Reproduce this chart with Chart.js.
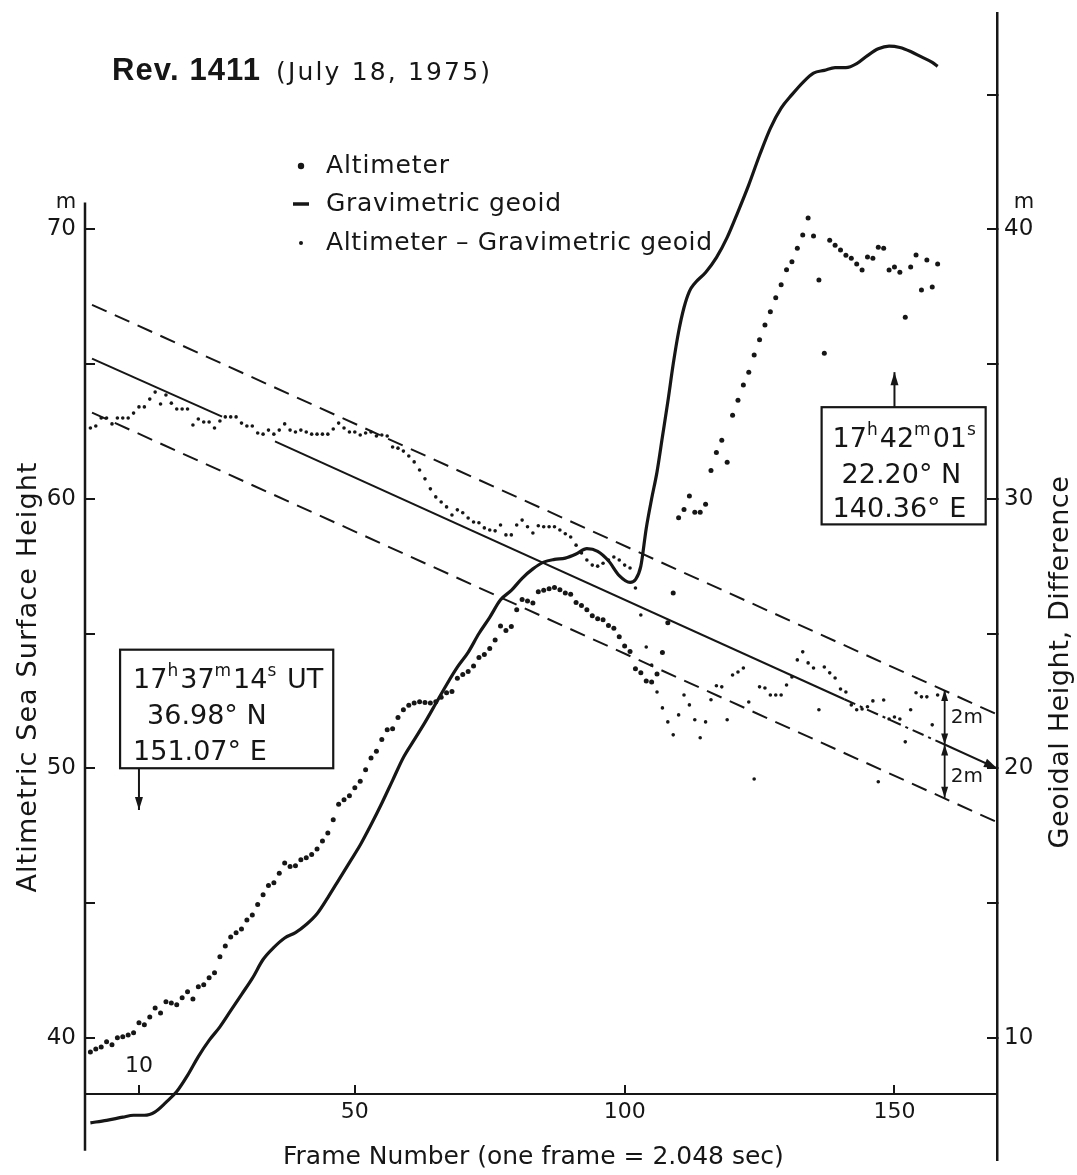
<!DOCTYPE html>
<html>
<head>
<meta charset="utf-8">
<script src="https://cdn.jsdelivr.net/npm/chart.js@4.4.1/dist/chart.umd.min.js"></script>
<style>
  html, body { margin: 0; padding: 0; background: #fff; }
  canvas { display: block; }
</style>
</head>
<body>
<canvas id="myChart" width="1077" height="1175"></canvas>
<script>
const INK = '#161616';
const FONT = '"DejaVu Sans", sans-serif';

// axis ticks
const frameTicks = [10, 50, 100, 150];
const heightTicks = [40, 45, 50, 55, 60, 65, 70];
const geoidTicks = [10, 15, 20, 25, 30, 35, 40, 45];

// altimeter sea surface height (m, left axis), one reading per frame from frame 1
const altimeter = [
  39.47, 39.58, 39.65, 39.85, 39.74, 40.0, 40.03, 40.1, 40.18, 40.55,
  40.48, 40.77, 41.1, 40.92, 41.33, 41.29, 41.22, 41.48, 41.7, 41.44,
  41.89, 41.96, 42.22, 42.41, 43.0, 43.4, 43.74, 43.89, 44.03, 44.37,
  44.55, 44.94, 45.3, 45.65, 45.75, 46.1, 46.48, 46.35, 46.38, 46.6,
  46.68, 46.8, 47.0, 47.3, 47.6, 48.09, 48.66, 48.83, 48.98, 49.28,
  49.52, 49.94, 50.38, 50.63, 51.07, 51.43, 51.47, 51.88, 52.17, 52.34,
  52.42, 52.47, 52.44, 52.42, 52.47, 52.63, 52.8, 52.85, 53.34, 53.48,
  53.59, 53.79, 54.11, 54.22, 54.44, 54.76, 55.28, 55.11, 55.26, 55.88,
  56.26, 56.21, 56.13, 56.55, 56.61, 56.66, 56.71, 56.62, 56.5, 56.46,
  56.15, 56.04, 55.88, 55.66, 55.55, 55.51, 55.3, 55.2, 54.88, 54.54,
  54.33, 53.69, 53.54, 53.24, 53.2, 53.5, 54.3, 55.4, 56.5, 59.3,
  59.6, 60.1, 59.5, 59.5, 59.8, 61.05, 61.72, 62.17, 61.36, 63.1,
  63.66, 64.22, 64.7, 65.34, 65.9, 66.45, 66.94, 67.46, 67.94, 68.5,
  68.8, 69.3, 69.79, 70.42, 69.75, 68.12, 65.4, 69.6, 69.41, 69.23,
  69.04, 68.93, 68.71, 68.49, 68.97, 68.93, 69.34, 69.3, 68.49, 68.6,
  68.41, 66.74, 68.6, 69.05, 67.75, 68.86, 67.86, 68.71
];

// altimeter - gravimetric geoid (m, right axis), one per frame from frame 1
const difference = [
  32.63, 32.70, 33.0, 33.0, 32.78, 33.0, 33.0, 33.0, 33.18, 33.41,
  33.41, 33.7, 33.96, 33.52, 33.85, 33.55, 33.33, 33.33, 33.33, 32.74,
  32.96, 32.85, 32.85, 32.63, 32.89, 33.04, 33.04, 33.04, 32.81, 32.7,
  32.7, 32.44, 32.4, 32.55, 32.4, 32.55, 32.78, 32.55, 32.48, 32.55,
  32.48, 32.4, 32.4, 32.4, 32.4, 32.59, 32.81, 32.63, 32.48, 32.48,
  32.37, 32.44, 32.48, 32.33, 32.37, 32.33, 31.92, 31.88, 31.77, 31.59,
  31.37, 31.07, 30.74, 30.37, 30.07, 29.88, 29.7, 29.4, 29.59, 29.48,
  29.29, 29.14, 29.11, 28.92, 28.84, 28.81, 29.03, 28.66, 28.66, 29.03,
  29.21, 28.96, 28.73, 29.0, 28.96, 28.96, 28.96, 28.84, 28.7, 28.58,
  28.28, 27.99, 27.73, 27.54, 27.5, 27.61, 27.73, 27.84, 27.73, 27.54,
  27.43, 26.69, 25.69, 24.5, 23.83, 22.83, 22.24, 21.72, 21.24, 21.98,
  22.72, 22.35, 21.8, 21.13, 21.72, 22.54, 23.06, 23.02, 21.8, 23.46,
  23.57, 23.72, 22.46, 19.6, 23.02, 22.98, 22.72, 22.72, 22.72, 23.09,
  23.39, 24.02, 24.32, 23.91, 23.72, 22.17, 23.76, 23.54, 23.35, 22.94,
  22.83, 22.35, 22.17, 22.2, 22.28, 22.5, 19.5, 22.53, 21.83, 21.9,
  21.83, 20.98, 22.17, 22.8, 22.65, 22.65, 21.61, 22.72
];

// gravimetric geoid (m, right axis)
const geoidFrames = [
  1, 4, 7, 9, 11, 13, 15, 17, 19, 21, 23, 25, 27, 29, 31, 33, 35, 37, 39, 41,
  43, 45, 47, 49, 51, 53, 55, 57, 59, 61, 63, 65, 67, 69, 71, 73, 75, 77, 79, 81,
  83, 85, 87, 89, 91, 93, 95, 97, 99, 101, 102, 103, 104, 105, 106, 107, 108, 109, 110, 111,
  112, 113, 115, 117, 119, 121, 123, 125, 127, 129, 131, 133, 135, 137, 139, 141, 143, 145, 147, 149,
  151, 153, 155, 157, 158
];
const geoidHeights = [
  6.84, 6.93, 7.05, 7.12, 7.12, 7.25, 7.6, 8.0, 8.6, 9.3, 9.9, 10.4, 11.0, 11.6, 12.2, 12.9, 13.35, 13.7, 13.9, 14.2,
  14.6, 15.2, 15.85, 16.5, 17.15, 17.9, 18.7, 19.55, 20.4, 21.05, 21.7, 22.4, 23.1, 23.75, 24.3, 25.0, 25.6, 26.25, 26.6, 27.05,
  27.4, 27.65, 27.75, 27.8, 27.95, 28.15, 28.05, 27.7, 27.15, 26.9, 27.0, 27.5, 28.9, 30.0, 31.0, 32.3, 33.6, 35.0, 36.2, 37.1,
  37.7, 38.0, 38.4, 38.95, 39.7, 40.65, 41.65, 42.75, 43.75, 44.5, 45.0, 45.45, 45.8, 45.9, 46.0, 46.0, 46.15, 46.45, 46.7, 46.8,
  46.75, 46.6, 46.4, 46.2, 46.05
];

// straight fit through the difference, and the +/- 2 m band (right axis)
const trendFrames = [1.3, 25.4, 30, 35.2, 140.7, 159.3, 169];
const trendHeights = [35.2, 33.05, null, 32.13, 22.56, 20.88, 20.0];
const bandFrames = [1.3, 169];
const upperBand = [37.2, 22.0];
const lowerBand = [33.2, 18.0];

const frames = altimeter.map((v, i) => i + 1);
const pts = (xs, ys) => xs.map((x, i) => ({ x: x, y: ys[i] }));

function arrowHead(ctx, x, y, angle, len, half) {
    len = len || 11; half = half || 4;
    const c = Math.cos(angle), s = Math.sin(angle);
    ctx.beginPath();
    ctx.moveTo(x, y);
    ctx.lineTo(x - len * c + half * s, y - len * s - half * c);
    ctx.lineTo(x - len * c - half * s, y - len * s + half * c);
    ctx.closePath();
    ctx.fill();
}

function line(ctx, x0, y0, x1, y1) {
    ctx.beginPath();
    ctx.moveTo(x0, y0);
    ctx.lineTo(x1, y1);
    ctx.stroke();
}

// draw a string stretched to a given width with letter spacing
function spaced(ctx, str, x, y, width) {
    ctx.letterSpacing = '0px';
    const natural = ctx.measureText(str).width;
    const extra = width ? Math.max(0, (width - natural) / (str.length - 1)) : 0;
    ctx.letterSpacing = extra + 'px';
    ctx.fillText(str, x, y);
    ctx.letterSpacing = '0px';
}

// text with raised superscript parts: [['17'], ['h', true], ...]
function rich(ctx, parts, x, y, size) {
    let cx = x;
    ctx.textAlign = 'left';
    ctx.textBaseline = 'alphabetic';
    parts.forEach(p => {
        const sup = p[1];
        ctx.font = (sup ? Math.round(size * 0.62) : size) + 'px ' + FONT;
        ctx.fillText(p[0], cx, sup ? y - size * 0.45 : y);
        cx += ctx.measureText(p[0]).width + (sup ? 2 : 0);
    });
}

const notes = [
    { left: 6.5, right: 46, top: 54.4, bottom: 50.0, arrowFrame: 10, arrowTip: 48.45,
      lines: [
        { dx: 13, dy: 38, parts: [['17'], ['h', true], ['37'], ['m', true], ['14'], ['s', true], [' UT']] },
        { dx: 27, dy: 74, parts: [['36.98° N']] },
        { dx: 13, dy: 110, parts: [['151.07° E']] }
      ] },
    { left: 136.5, right: 166.9, top: 63.4, bottom: 59.05, arrowFrame: 150, arrowTip: 64.7,
      lines: [
        { dx: 11, dy: 40, parts: [['17'], ['h', true], ['42'], ['m', true], ['01'], ['s', true]] },
        { dx: 20, dy: 76, parts: [['22.20° N']] },
        { dx: 11, dy: 110, parts: [['140.36° E']] }
      ] }
];

const decorations = {
    id: 'decorations',
    afterDraw(chart) {
        const { ctx, chartArea } = chart;
        const sx = chart.scales.x, sy = chart.scales.y, sr = chart.scales.y1;
        ctx.save();
        ctx.fillStyle = INK;
        ctx.strokeStyle = INK;
        ctx.lineCap = 'butt';

        // left axis only runs over part of the height
        ctx.lineWidth = 2.5;
        line(ctx, chartArea.left, sy.getPixelForValue(71), chartArea.left, sy.getPixelForValue(35.8));

        // units
        ctx.font = '21px ' + FONT;
        ctx.textAlign = 'center';
        ctx.textBaseline = 'middle';
        ctx.fillText('m', 66, 203);
        ctx.fillText('m', 1024, 203);

        // frame 10 label sits above the axis
        ctx.font = '22px ' + FONT;
        ctx.fillText('10', sx.getPixelForValue(10), sy.getPixelForValue(37.92) - 27);

        // title
        ctx.textAlign = 'left';
        ctx.textBaseline = 'alphabetic';
        ctx.font = 'bold 31px "Liberation Sans", sans-serif';
        spaced(ctx, 'Rev. 1411', 112, 80, 148);
        ctx.font = '25px ' + FONT;
        spaced(ctx, '(July 18, 1975)', 276, 80, 214);

        // legend
        ctx.font = '25px ' + FONT;
        ctx.textBaseline = 'middle';
        const lx = 301, tx = 326;
        ctx.beginPath(); ctx.arc(lx, 166, 3.2, 0, Math.PI * 2); ctx.fill();
        spaced(ctx, 'Altimeter', tx, 166, 123);
        ctx.lineWidth = 3.5;
        line(ctx, lx - 8, 204, lx + 8, 204);
        spaced(ctx, 'Gravimetric geoid', tx, 204, 235);
        ctx.beginPath(); ctx.arc(lx, 243, 2, 0, Math.PI * 2); ctx.fill();
        spaced(ctx, 'Altimeter – Gravimetric geoid', tx, 243, 386);

        // axis titles
        ctx.textBaseline = 'alphabetic';
        ctx.textAlign = 'center';
        ctx.font = '27px ' + FONT;
        ctx.save();
        ctx.translate(36, 677);
        ctx.rotate(-Math.PI / 2);
        spaced(ctx, 'Altimetric Sea Surface Height', 0, 0, 430);
        ctx.restore();
        ctx.save();
        ctx.translate(1068, 662);
        ctx.rotate(-Math.PI / 2);
        spaced(ctx, 'Geoidal Height, Difference', 0, 0, 372);
        ctx.restore();
        ctx.textAlign = 'left';
        ctx.font = '25px ' + FONT;
        spaced(ctx, 'Frame Number (one frame = 2.048 sec)', 283, 1164);

        // position / time boxes
        notes.forEach(n => {
            const l = sx.getPixelForValue(n.left), r = sx.getPixelForValue(n.right);
            const t = sy.getPixelForValue(n.top), b = sy.getPixelForValue(n.bottom);
            ctx.lineWidth = 2.2;
            ctx.strokeRect(l, t, r - l, b - t);
            n.lines.forEach(ln => rich(ctx, ln.parts, l + ln.dx, t + ln.dy, 27));
            const ax = sx.getPixelForValue(n.arrowFrame);
            const from = n.arrowTip < n.bottom ? b : t;
            const tip = sy.getPixelForValue(n.arrowTip);
            ctx.lineWidth = 2;
            line(ctx, ax, from, ax, tip);
            arrowHead(ctx, ax, tip, tip > from ? Math.PI / 2 : -Math.PI / 2, 13, 4);
        });

        // arrow at the end of the fitted line
        const ex = sx.getPixelForValue(169), ey = sr.getPixelForValue(20.0);
        const px = sx.getPixelForValue(159.3), py = sr.getPixelForValue(20.88);
        arrowHead(ctx, ex, ey, Math.atan2(ey - py, ex - px), 13, 4.5);

        // 2 m spread markers
        const mx = sx.getPixelForValue(159.3);
        const yu = sr.getPixelForValue(22.9), ym = sr.getPixelForValue(20.88), yl = sr.getPixelForValue(18.9);
        ctx.lineWidth = 1.8;
        line(ctx, mx, yu, mx, yl);
        arrowHead(ctx, mx, yu, -Math.PI / 2, 11, 3.5);
        arrowHead(ctx, mx, ym, Math.PI / 2, 11, 3.5);
        arrowHead(ctx, mx, ym, -Math.PI / 2, 11, 3.5);
        arrowHead(ctx, mx, yl, Math.PI / 2, 11, 3.5);
        ctx.font = '20px ' + FONT;
        ctx.textBaseline = 'middle';
        ctx.textAlign = 'left';
        ctx.fillText('2m', mx + 6, (yu + ym) / 2);
        ctx.fillText('2m', mx + 6, (ym + yl) / 2 + 6);
        ctx.restore();
    }
};

// scale boxes keep exact sizes, without room reserved for half tick labels
const fixWidth = w => s => { s.width = w; s.paddingTop = 0; s.paddingBottom = 0; };
const fixHeight = h => s => { s.height = h; s.paddingLeft = 0; s.paddingRight = 0; };

const chartCtx = document.getElementById('myChart').getContext('2d');

new Chart(chartCtx, {
    type: 'scatter',
    data: {
        datasets: [
            {
                label: 'Altimeter',
                data: pts(frames, altimeter),
                yAxisID: 'y',
                pointRadius: 2.5,
                pointBorderWidth: 0,
                pointBackgroundColor: INK,
                showLine: false
            },
            {
                label: 'Gravimetric geoid',
                data: pts(geoidFrames, geoidHeights),
                yAxisID: 'y1',
                showLine: true,
                borderColor: INK,
                borderWidth: 3.2,
                pointRadius: 0,
                cubicInterpolationMode: 'monotone'
            },
            {
                label: 'Altimeter - Gravimetric geoid',
                data: pts(frames, difference),
                yAxisID: 'y1',
                pointRadius: 1.8,
                pointBorderWidth: 0,
                pointBackgroundColor: INK,
                showLine: false
            },
            {
                label: 'fit',
                data: pts(trendFrames, trendHeights),
                yAxisID: 'y1',
                showLine: true,
                borderColor: INK,
                borderWidth: 2,
                pointRadius: 0,
                segment: {
                    borderDash: c => (c.p0.parsed.x > 140 && c.p0.parsed.x < 150) ? [12, 5, 3, 5] : undefined
                }
            },
            {
                label: '+2 m',
                data: pts(bandFrames, upperBand),
                yAxisID: 'y1',
                showLine: true,
                borderColor: INK,
                borderWidth: 2,
                borderDash: [16, 9],
                pointRadius: 0
            },
            {
                label: '-2 m',
                data: pts(bandFrames, lowerBand),
                yAxisID: 'y1',
                showLine: true,
                borderColor: INK,
                borderWidth: 2,
                borderDash: [16, 9],
                pointRadius: 0
            }
        ]
    },
    options: {
        responsive: false,
        animation: false,
        // the frame axis sits inside the plot, so the bottom gap is plain padding
        layout: { padding: { top: 13, left: 0, right: 0, bottom: 15 } },
        plugins: {
            legend: { display: false },
            tooltip: { enabled: false }
        },
        scales: {
            x: {
                type: 'linear',
                min: 0,
                max: 169,
                position: { y: 37.92 },
                afterFit: fixHeight(15),
                afterBuildTicks: s => { s.ticks = frameTicks.map(v => ({ value: v })); },
                grid: { drawOnChartArea: false, drawTicks: true, tickLength: -10, color: INK, lineWidth: 2 },
                border: { display: true, color: INK, width: 2 },
                ticks: {
                    autoSkip: false,
                    maxRotation: 0,
                    padding: 15,
                    color: INK,
                    font: { family: FONT, size: 22 },
                    callback: v => v === 10 ? '' : v
                }
            },
            y: {
                position: 'left',
                min: 35.46,
                max: 78.03,
                afterFit: fixWidth(85),
                afterBuildTicks: s => { s.ticks = heightTicks.map(v => ({ value: v })); },
                grid: { drawOnChartArea: false, drawTicks: true, tickLength: -10, color: INK, lineWidth: 2 },
                border: { display: false },
                ticks: {
                    autoSkip: false,
                    padding: 19,
                    color: INK,
                    font: { family: FONT, size: 23 },
                    callback: v => v % 10 === 0 ? v : ''
                }
            },
            y1: {
                position: 'right',
                min: 5.46,
                max: 48.03,
                afterFit: fixWidth(80),
                afterBuildTicks: s => { s.ticks = geoidTicks.map(v => ({ value: v })); },
                grid: { drawOnChartArea: false, drawTicks: true, tickLength: -10, color: INK, lineWidth: 2 },
                border: { display: true, color: INK, width: 2.5 },
                ticks: {
                    autoSkip: false,
                    padding: 17,
                    color: INK,
                    font: { family: FONT, size: 23 },
                    callback: v => v % 10 === 0 ? v : ''
                }
            }
        }
    },
    plugins: [decorations]
});
</script>
</body>
</html>
